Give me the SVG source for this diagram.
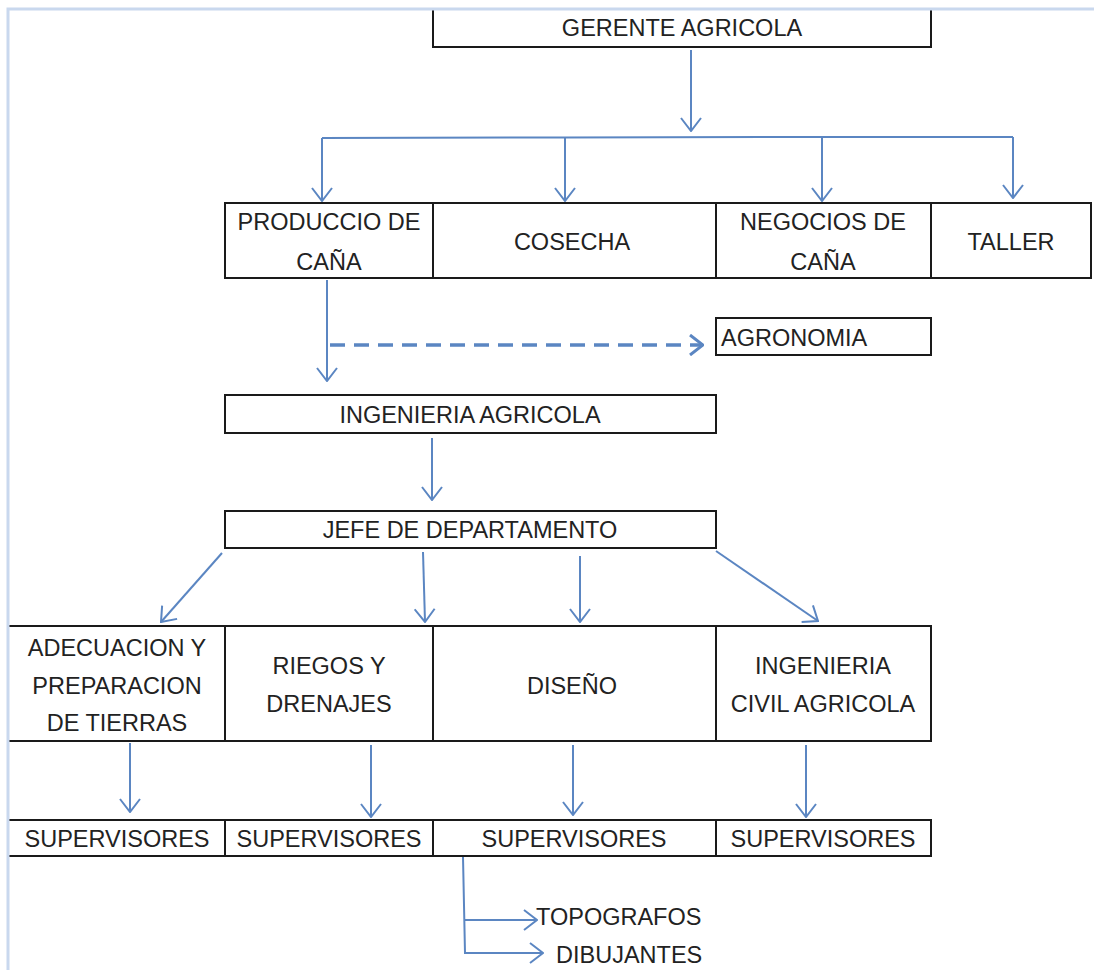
<svg xmlns="http://www.w3.org/2000/svg" width="1094" height="970" viewBox="0 0 1094 970">
<style>
.box{fill:#fff;stroke:#1a1a1a;stroke-width:2}
.t{font-family:"Liberation Sans",Arial,sans-serif;font-size:23.5px;fill:#222;text-anchor:middle;dominant-baseline:central}
.c{fill:none;stroke:#5b86c2;stroke-width:2}
.d{fill:none;stroke:#5b86c2;stroke-width:3.5;stroke-dasharray:15 9}
.frame{fill:none;stroke:#c9d8ee;stroke-width:3}
</style>
<defs>
<marker id="ah" viewBox="0 0 15 22" markerWidth="15" markerHeight="22" refX="14" refY="11" orient="auto" markerUnits="userSpaceOnUse">
<path d="M1,1 L14,11 L1,21" fill="none" stroke="#5b86c2" stroke-width="2"/>
</marker>
<marker id="ahd" viewBox="0 0 15 22" markerWidth="15" markerHeight="22" refX="14" refY="11" orient="auto" markerUnits="userSpaceOnUse">
<path d="M1,1 L14,11 L1,21" fill="none" stroke="#5b86c2" stroke-width="3"/>
</marker>
</defs>
<rect width="1094" height="970" fill="#fff"/>

<g id="gerente">
<rect class="box" x="433" y="9" width="498" height="38"/>
<text class="t" x="682" y="28">GERENTE AGRICOLA</text>
</g>

<g id="produccion">
<rect class="box" x="225" y="203" width="208" height="75"/>
<text class="t" x="329" y="222">PRODUCCIO DE</text>
<text class="t" x="329" y="262">CAÑA</text>
</g>
<g id="cosecha">
<rect class="box" x="433" y="203" width="283" height="75"/>
<text class="t" x="572" y="242">COSECHA</text>
</g>
<g id="negocios">
<rect class="box" x="716" y="203" width="215" height="75"/>
<text class="t" x="823" y="222">NEGOCIOS DE</text>
<text class="t" x="823" y="262">CAÑA</text>
</g>
<g id="taller">
<rect class="box" x="931" y="203" width="160" height="75"/>
<text class="t" x="1011" y="242">TALLER</text>
</g>

<g id="agronomia">
<rect class="box" x="716" y="318" width="215" height="37"/>
<text class="t" x="721" y="338" style="text-anchor:start">AGRONOMIA</text>
</g>

<g id="ingenieria">
<rect class="box" x="225" y="395" width="491" height="38"/>
<text class="t" x="470" y="415">INGENIERIA AGRICOLA</text>
</g>

<g id="jefe">
<rect class="box" x="225" y="511" width="491" height="37"/>
<text class="t" x="470" y="530">JEFE DE DEPARTAMENTO</text>
</g>

<g id="adecuacion">
<rect class="box" x="8" y="626" width="217" height="115"/>
<text class="t" x="117" y="648">ADECUACION Y</text>
<text class="t" x="117" y="686">PREPARACION</text>
<text class="t" x="117" y="723">DE TIERRAS</text>
</g>
<g id="riegos">
<rect class="box" x="225" y="626" width="208" height="115"/>
<text class="t" x="329" y="666">RIEGOS Y</text>
<text class="t" x="329" y="704">DRENAJES</text>
</g>
<g id="diseno">
<rect class="box" x="433" y="626" width="283" height="115"/>
<text class="t" x="572" y="686">DISEÑO</text>
</g>
<g id="civil">
<rect class="box" x="716" y="626" width="215" height="115"/>
<text class="t" x="823" y="666">INGENIERIA</text>
<text class="t" x="823" y="704">CIVIL AGRICOLA</text>
</g>

<g id="sup1">
<rect class="box" x="8" y="820" width="217" height="36"/>
<text class="t" x="117" y="839">SUPERVISORES</text>
</g>
<g id="sup2">
<rect class="box" x="225" y="820" width="208" height="36"/>
<text class="t" x="329" y="839">SUPERVISORES</text>
</g>
<g id="sup3">
<rect class="box" x="433" y="820" width="283" height="36"/>
<text class="t" x="574" y="839">SUPERVISORES</text>
</g>
<g id="sup4">
<rect class="box" x="716" y="820" width="215" height="36"/>
<text class="t" x="823" y="839">SUPERVISORES</text>
</g>

<g id="topografos">
<text class="t" x="536" y="917" style="text-anchor:start">TOPOGRAFOS</text>
</g>
<g id="dibujantes">
<text class="t" x="556" y="955" style="text-anchor:start">DIBUJANTES</text>
</g>

<g id="connectors">
<path class="c" d="M691,50 V131" marker-end="url(#ah)"/>
<path class="c" d="M322,138 L565,137.5 L822,137 L1013,137"/>
<path class="c" d="M322,138 V201" marker-end="url(#ah)"/>
<path class="c" d="M565,137 V201" marker-end="url(#ah)"/>
<path class="c" d="M822,137 V201" marker-end="url(#ah)"/>
<path class="c" d="M1013,137 V198" marker-end="url(#ah)"/>
<path class="c" d="M327,280 V381" marker-end="url(#ah)"/>
<path class="d" d="M330,345 H703" marker-end="url(#ahd)"/>
<path class="c" d="M432,438 V500" marker-end="url(#ah)"/>
<path class="c" d="M222,553 L161,622" marker-end="url(#ah)"/>
<path class="c" d="M423,552 L425,622" marker-end="url(#ah)"/>
<path class="c" d="M580,556 L580,622" marker-end="url(#ah)"/>
<path class="c" d="M716,551 L818,621" marker-end="url(#ah)"/>
<path class="c" d="M130,743 V812" marker-end="url(#ah)"/>
<path class="c" d="M371,745 V817" marker-end="url(#ah)"/>
<path class="c" d="M573,745 V815" marker-end="url(#ah)"/>
<path class="c" d="M806,745 V817" marker-end="url(#ah)"/>
<path class="c" d="M463,857 L465,953 H543" marker-end="url(#ah)"/>
<path class="c" d="M465,920 H537" marker-end="url(#ah)"/>
</g>

<g id="frame">
<path class="frame" d="M1094,9 H8 V970"/>
</g>
</svg>
